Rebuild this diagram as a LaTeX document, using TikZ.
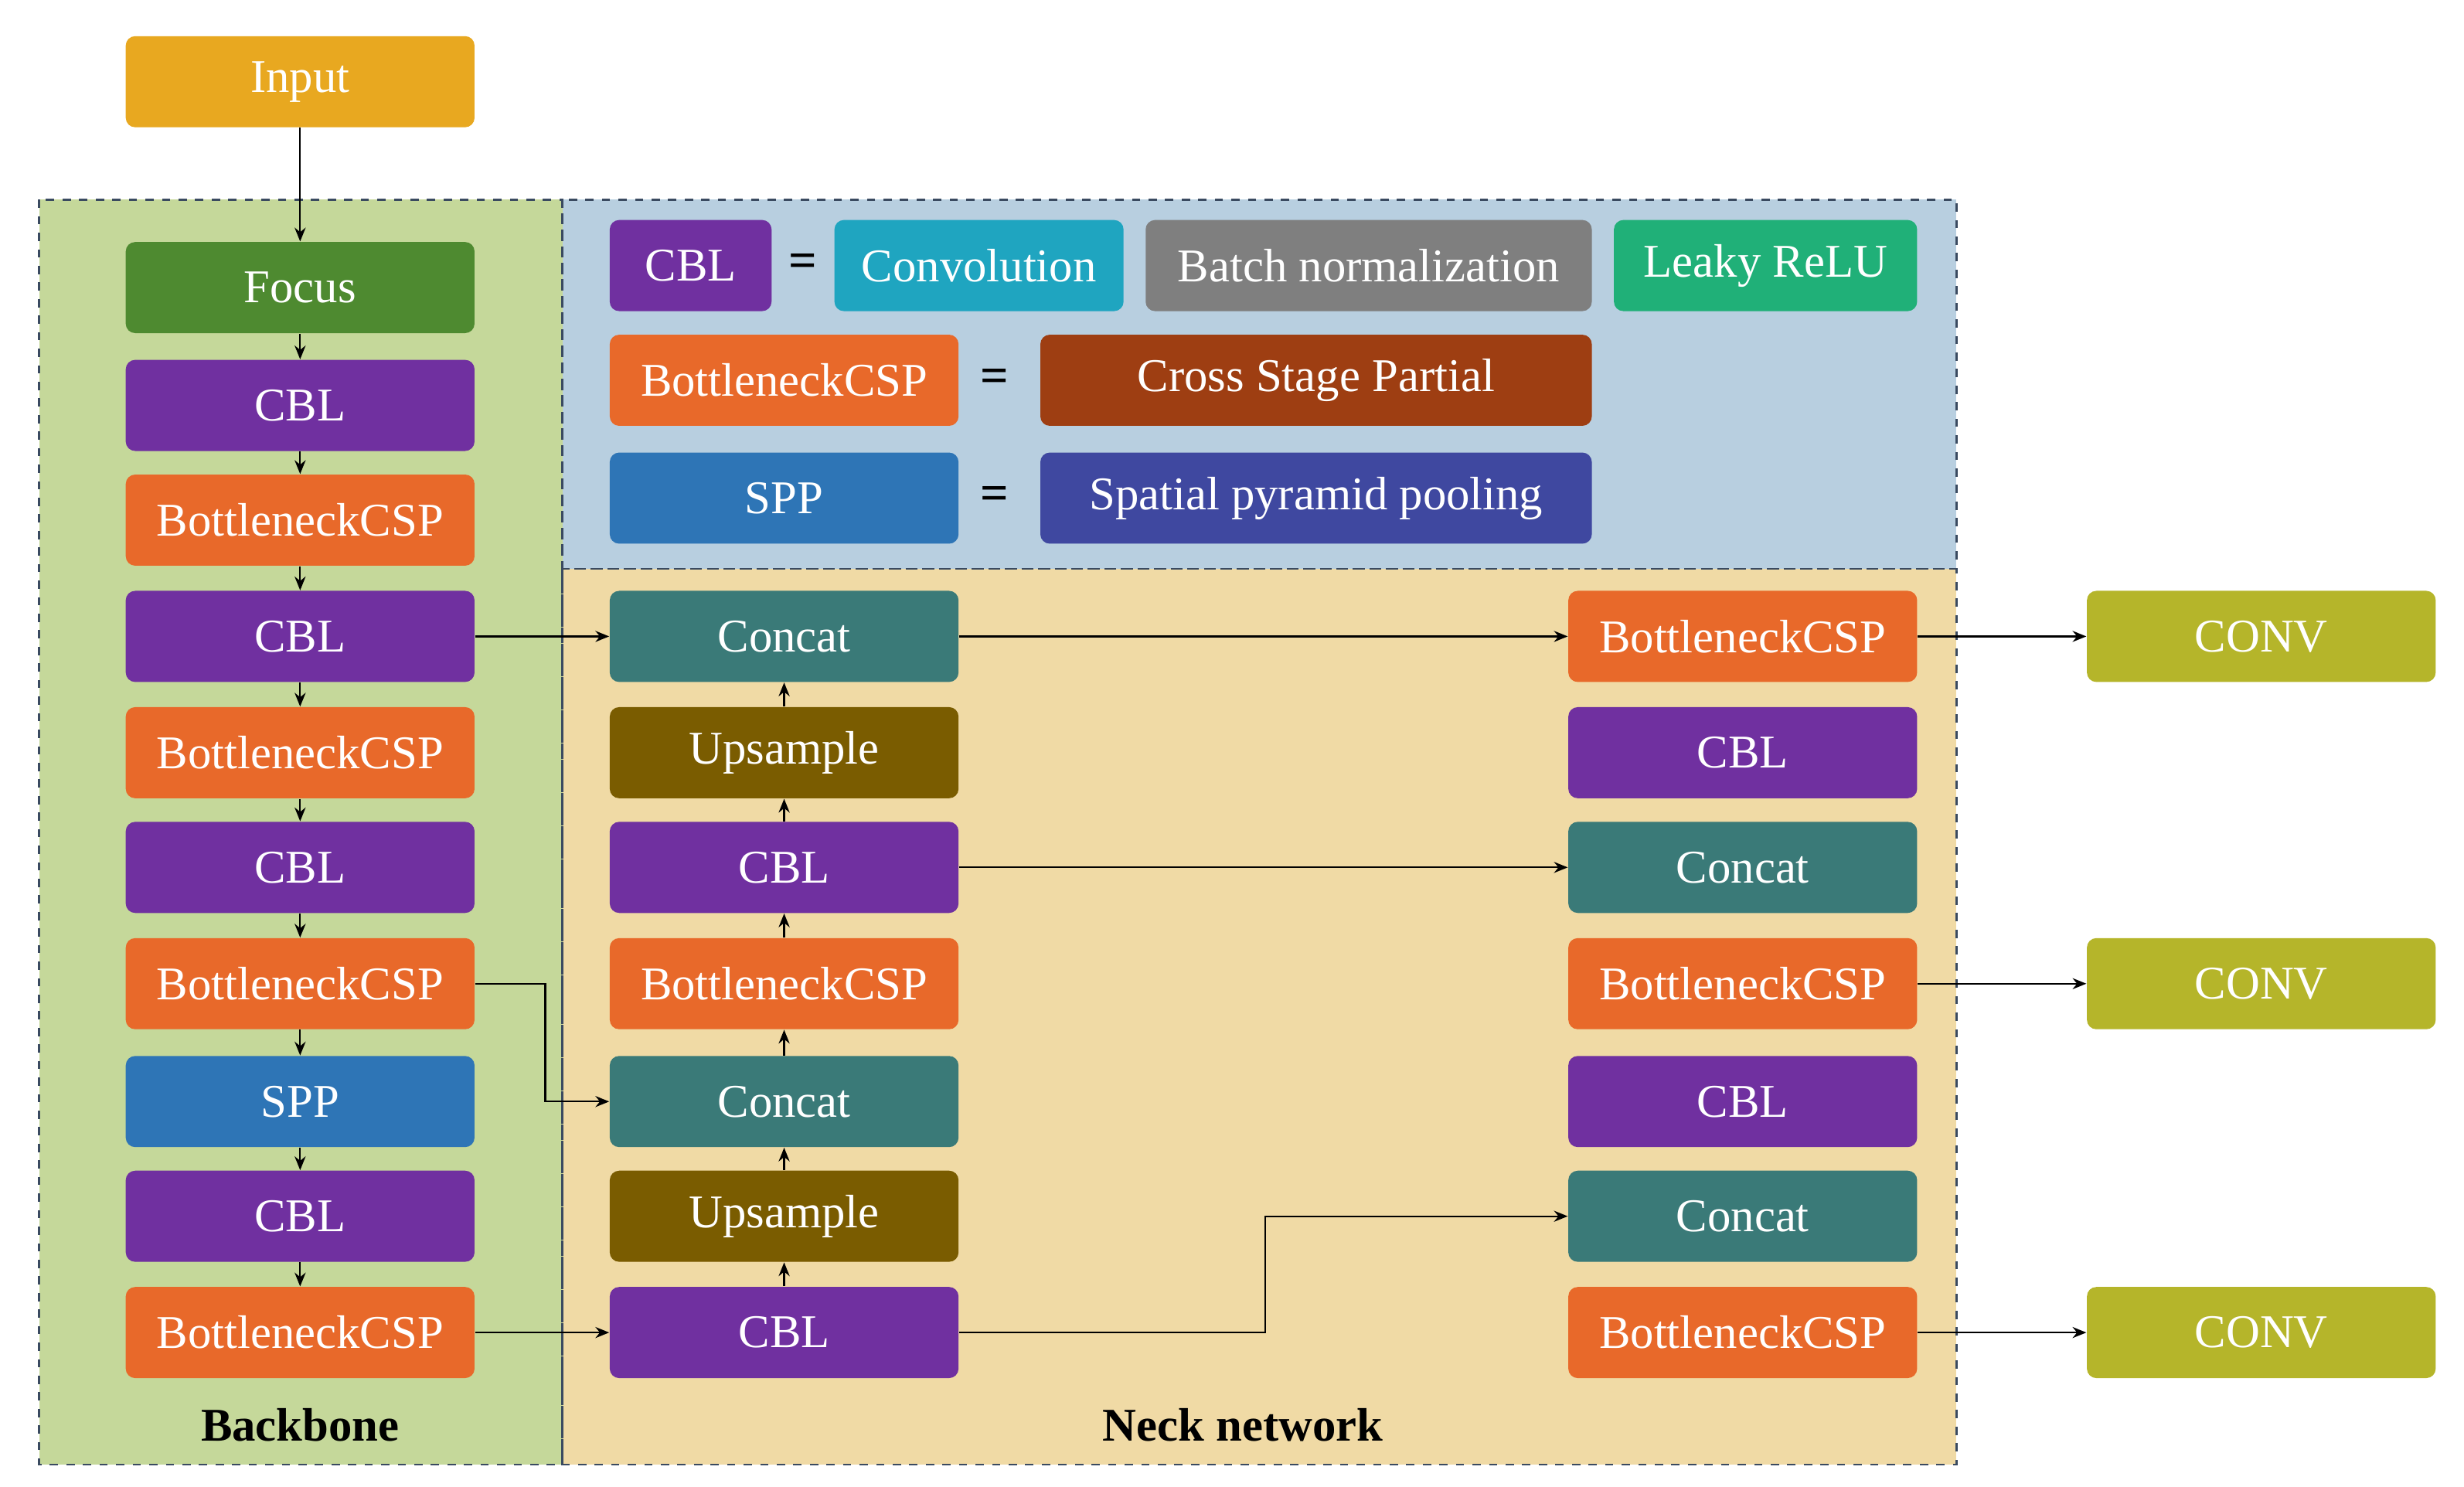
\documentclass[tikz,border=0pt]{standalone}
\usepackage{fontspec}
\setmainfont{Liberation Serif}
\usetikzlibrary{arrows.meta}
\definecolor{cInput}{HTML}{E8A820}
\definecolor{cFocus}{HTML}{4E8A30}
\definecolor{cCBL}{HTML}{7030A0}
\definecolor{cCSP}{HTML}{E8692A}
\definecolor{cSPP}{HTML}{2E75B6}
\definecolor{cConcat}{HTML}{3A7A78}
\definecolor{cUp}{HTML}{7A5C00}
\definecolor{cConv}{HTML}{B5B52A}
\definecolor{cConvo}{HTML}{1FA5C0}
\definecolor{cBN}{HTML}{7F7F7F}
\definecolor{cLeaky}{HTML}{20B078}
\definecolor{cCross}{HTML}{9E3E12}
\definecolor{cSpat}{HTML}{3F48A0}
\definecolor{bgBack}{HTML}{C5D89A}
\definecolor{bgNeck}{HTML}{F0DAA5}
\definecolor{bgLeg}{HTML}{B8CFE0}
\definecolor{dash}{HTML}{3A4A60}
\tikzset{
 box/.style={rounded corners=0.12cm, text=white, font=\fontsize{17}{20}\selectfont, minimum height=1.16cm, minimum width=4.44cm, inner sep=0pt},
 region/.style={draw=dash, dashed, line width=0.8pt},
 arr/.style={-{Stealth[length=5pt,width=4pt]}, line width=0.6pt},
 eq/.style={font=\fontsize{18}{20}\selectfont\bfseries}
}
\begin{document}
\begin{tikzpicture}[x=0.02cm,y=-0.02cm]
\useasboundingbox (0,0) rectangle (1568,946);
\fill[bgBack] (25,127) rectangle (358,932);
\fill[bgLeg] (358,127) rectangle (1245,362);
\fill[bgNeck] (358,362) rectangle (1245,932);
\draw[region] (25,127) rectangle (358,932);
\draw[region] (358,127) rectangle (1245,362);
\draw[region] (358,362) rectangle (1245,932);

\node[box,fill=cInput] (in) at (191,52) {Input};
\node[box,fill=cFocus] (b1) at (191,183) {Focus};
\node[box,fill=cCBL] (b2) at (191,258) {CBL};
\node[box,fill=cCSP] (b3) at (191,331) {BottleneckCSP};
\node[box,fill=cCBL] (b4) at (191,405) {CBL};
\node[box,fill=cCSP] (b5) at (191,479) {BottleneckCSP};
\node[box,fill=cCBL] (b6) at (191,552) {CBL};
\node[box,fill=cCSP] (b7) at (191,626) {BottleneckCSP};
\node[box,fill=cSPP] (b8) at (191,701) {SPP};
\node[box,fill=cCBL] (b9) at (191,774) {CBL};
\node[box,fill=cCSP] (b10) at (191,848) {BottleneckCSP};

\node[box,fill=cConcat] (m1) at (499,405) {Concat};
\node[box,fill=cUp] (m2) at (499,479) {Upsample};
\node[box,fill=cCBL] (m3) at (499,552) {CBL};
\node[box,fill=cCSP] (m4) at (499,626) {BottleneckCSP};
\node[box,fill=cConcat] (m5) at (499,701) {Concat};
\node[box,fill=cUp] (m6) at (499,774) {Upsample};
\node[box,fill=cCBL] (m7) at (499,848) {CBL};

\node[box,fill=cCSP] (r1) at (1109,405) {BottleneckCSP};
\node[box,fill=cCBL] (r2) at (1109,479) {CBL};
\node[box,fill=cConcat] (r3) at (1109,552) {Concat};
\node[box,fill=cCSP] (r4) at (1109,626) {BottleneckCSP};
\node[box,fill=cCBL] (r5) at (1109,701) {CBL};
\node[box,fill=cConcat] (r6) at (1109,774) {Concat};
\node[box,fill=cCSP] (r7) at (1109,848) {BottleneckCSP};

\node[box,fill=cConv] (c1) at (1439,405) {CONV};
\node[box,fill=cConv] (c2) at (1439,626) {CONV};
\node[box,fill=cConv] (c3) at (1439,848) {CONV};

% legend
\node[box,fill=cCBL,minimum width=2.06cm] (l1) at (439.5,169) {CBL};
\node[eq] (e1) at (511,169) {=};
\node[box,fill=cConvo,minimum width=3.68cm] (l2) at (623,169) {Convolution};
\node[box,fill=cBN,minimum width=5.68cm] (l3) at (871,169) {Batch normalization};
\node[box,fill=cLeaky,minimum width=3.86cm] (l4) at (1123.5,169) {Leaky ReLU};
\node[box,fill=cCSP] (l5) at (499,242) {BottleneckCSP};
\node[eq] (e2) at (633,242) {=};
\node[box,fill=cCross,minimum width=7.02cm] (l6) at (837.5,242) {Cross Stage Partial};
\node[box,fill=cSPP] (l7) at (499,317) {SPP};
\node[eq] (e3) at (633,317) {=};
\node[box,fill=cSpat,minimum width=7.02cm] (l8) at (837.5,317) {Spatial pyramid pooling};

\node[font=\fontsize{17}{20}\selectfont\bfseries] (lb) at (191,907) {Backbone};
\node[font=\fontsize{17}{20}\selectfont\bfseries] (ln) at (791,907) {Neck network};

% arrows
\draw[arr] (in) -- (b1);
\foreach \a/\b in {b1/b2,b2/b3,b3/b4,b4/b5,b5/b6,b6/b7,b7/b8,b8/b9,b9/b10,m7/m6,m6/m5,m5/m4,m4/m3,m3/m2,m2/m1}
  \draw[arr] (\a) -- (\b);
\draw[arr] (b4) -- (m1);
\draw[arr] (b7.east) -- (347,626) -- (347,701) -- (m5.west);
\draw[arr] (b10) -- (m7);
\draw[arr] (m1) -- (r1);
\draw[arr] (m3) -- (r3);
\draw[arr] (m7.east) -- (805,848) -- (805,774) -- (r6.west);
\draw[arr] (r1) -- (c1);
\draw[arr] (r4) -- (c2);
\draw[arr] (r7) -- (c3);
\end{tikzpicture}
\end{document}
